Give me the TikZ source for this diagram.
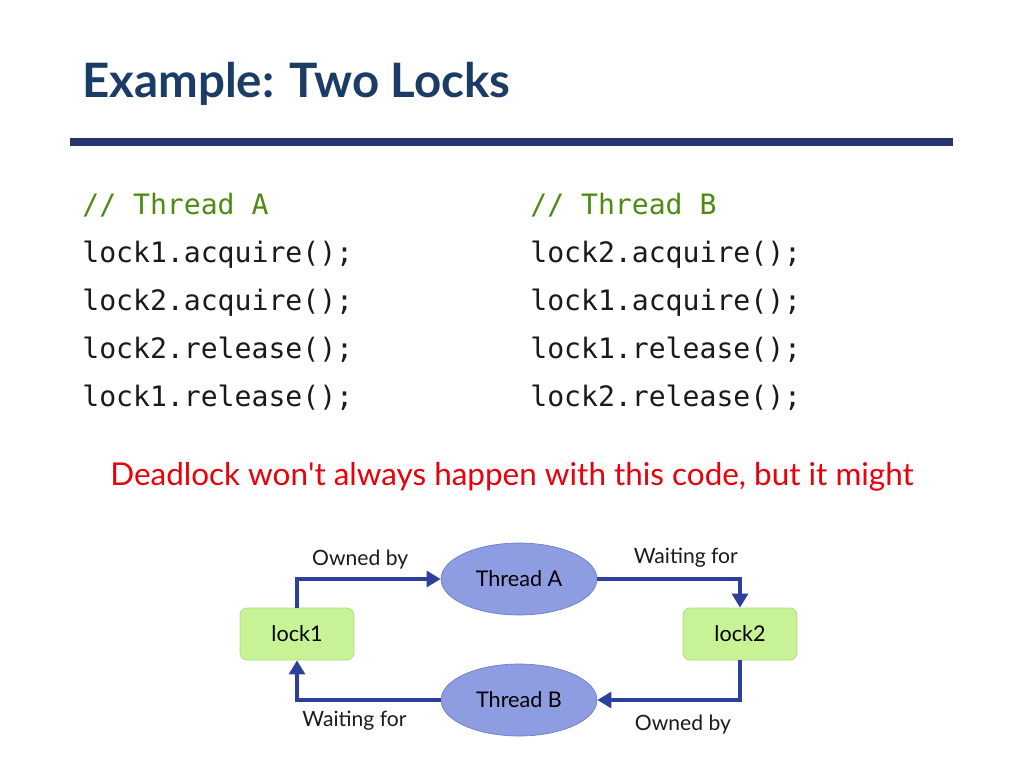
\documentclass[tikz,border=0pt]{standalone}
\usepackage{fontspec}
\setmainfont{Lato}
\setmonofont{DejaVu Sans Mono}
\usetikzlibrary{arrows.meta,shapes.geometric}
\definecolor{titleblue}{HTML}{1B3C66}
\definecolor{barblue}{HTML}{263470}
\definecolor{cmtgreen}{HTML}{4E8A12}
\definecolor{codeblack}{HTML}{1A1A1A}
\definecolor{warnred}{HTML}{E8000B}
\definecolor{lockfill}{HTML}{C8F296}
\definecolor{lockdraw}{HTML}{A9DC7E}
\definecolor{thrfill}{HTML}{8E9CE2}
\definecolor{thrdraw}{HTML}{6E7ECF}
\definecolor{arrblue}{HTML}{2D409C}
\tikzset{
  lockbox/.style={draw=lockdraw, fill=lockfill, rounded corners=4pt, minimum width=2.28cm, minimum height=1.04cm, inner sep=0pt, font=\fontsize{12.3}{15}\selectfont},
  thread/.style={ellipse, draw=thrdraw, fill=thrfill, minimum width=3.12cm, minimum height=1.44cm, inner sep=0pt, font=\fontsize{12.3}{15}\selectfont},
  edge/.style={draw=arrblue, line width=2.1pt, -{Triangle[length=8pt,width=9pt]}},
  lbl/.style={font=\fontsize{12}{14}\selectfont, text=codeblack},
  code/.style={anchor=base west, font=\ttfamily\fontsize{16}{18}\selectfont, text=codeblack, inner sep=0pt},
  cmt/.style={code, text=cmtgreen}
}
\begin{document}
\begin{tikzpicture}[x=0.02cm, y=-0.02cm]
  \useasboundingbox (0,0) rectangle (1024,768);
  % title
  \node[anchor=base west, inner sep=0pt, text=titleblue, font=\bfseries\fontsize{27}{32}\selectfont] (title) at (82,97) {Example: Two Locks};
  \fill[barblue] (70,138) rectangle (953,146);
  % thread A code
  \node[cmt] (ca0) at (82,214) {// Thread A};
  \node[code] (ca1) at (82,262) {lock1.acquire();};
  \node[code] (ca2) at (82,310) {lock2.acquire();};
  \node[code] (ca3) at (82,358) {lock2.release();};
  \node[code] (ca4) at (82,406) {lock1.release();};
  % thread B code
  \node[cmt] (cb0) at (530,214) {// Thread B};
  \node[code] (cb1) at (530,262) {lock2.acquire();};
  \node[code] (cb2) at (530,310) {lock1.acquire();};
  \node[code] (cb3) at (530,358) {lock1.release();};
  \node[code] (cb4) at (530,406) {lock2.release();};
  \node[anchor=base, inner sep=0pt, text=warnred, font=\fontsize{17.9}{21}\selectfont] (warn) at (512,485) {Deadlock won\textquotesingle t always happen with this code, but it might};
  % graph
  \node[lockbox] (lock1) at (297,634) {lock1};
  \node[lockbox] (lock2) at (740,634) {lock2};
  \node[thread] (tA) at (519,579) {Thread A};
  \node[thread] (tB) at (519,700) {Thread B};
  \draw[edge] (lock1.north) |- node[lbl, pos=0.72, above=1pt] {Owned by} (tA.west);
  \draw[edge] (tA.east) -| node[lbl, pos=0.31, above=2pt] {Waiting for} (lock2.north);
  \draw[edge] (lock2.south) |- node[lbl, pos=0.7, below=4pt] {Owned by} (tB.east);
  \draw[edge] (tB.west) -| node[lbl, pos=0.3, below=2pt] {Waiting for} (lock1.south);
\end{tikzpicture}
\end{document}
